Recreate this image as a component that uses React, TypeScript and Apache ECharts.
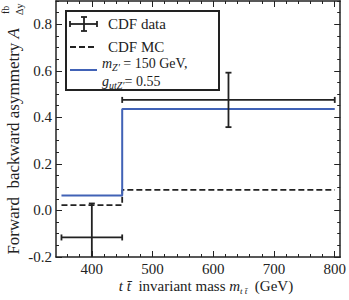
import React, { useEffect, useRef } from "react";
import * as echarts from "echarts";

// ---- data ----
const binEdges = [350, 450, 800];
const dataCenters = [400, 625];
const dataValues = [-0.116, 0.475];
const dataErrors = [0.146, 0.117];
const mcValues = [0.023, 0.088];
const zpValues = [0.064, 0.436];
const xTickLabels = [400, 500, 600, 700, 800];
const yTickLabels = [-0.2, 0.0, 0.2, 0.4, 0.6, 0.8];

const X_MIN = 341;
const X_MAX = 809;
const Y_MIN = -0.2;
const Y_MAX = 0.9;

const FONT = "Liberation Serif, serif";
const INK = "#222";
const BLUE = "#4162b6";

const xMinor: number[] = [];
for (let v = 360; v <= 800; v += 20) xMinor.push(v);
const yMinor: number[] = [];
for (let i = -4; i <= 18; i++) yMinor.push(Math.round(i * 5) / 100);

function stepData(values: number[]) {
  return binEdges.map((e, i) => [e, values[Math.min(i, values.length - 1)]]);
}

function xAxis(position: string, major: boolean, labels: boolean) {
  return {
    type: "value",
    min: X_MIN,
    max: X_MAX,
    position,
    splitLine: { show: false },
    axisLine: { show: major, onZero: false, lineStyle: { color: INK, width: 1.5 } },
    axisTick: {
      show: true,
      inside: true,
      length: major ? 6 : 3,
      customValues: major ? xTickLabels : xMinor,
      lineStyle: { color: INK, width: 1 },
    },
    axisLabel: labels
      ? { show: true, customValues: xTickLabels, color: INK, fontFamily: FONT, fontSize: 15, margin: 4 }
      : { show: false },
  };
}

function yAxis(position: string, major: boolean, labels: boolean) {
  return {
    type: "value",
    min: Y_MIN,
    max: Y_MAX,
    position,
    splitLine: { show: false },
    axisLine: { show: major, onZero: false, lineStyle: { color: INK, width: 1.5 } },
    axisTick: {
      show: true,
      inside: true,
      length: major ? 6 : 3,
      customValues: major ? yTickLabels : yMinor,
      lineStyle: { color: INK, width: 1 },
    },
    axisLabel: labels
      ? {
          show: true,
          customValues: yTickLabels,
          color: INK,
          fontFamily: FONT,
          fontSize: 15,
          margin: 4,
          formatter: (v: number) => v.toFixed(1),
        }
      : { show: false },
  };
}

const tok = (size: number, extra: any = {}) => ({ fontFamily: FONT, fontSize: size, fill: INK, ...extra });

const richText = (x: number, y: number, text: string, rich: any, extra: any = {}) => ({
  type: "text",
  z: 101,
  x,
  y,
  ...extra,
  style: {
    text,
    fontFamily: FONT,
    fontSize: 15,
    fill: INK,
    align: extra.align || "left",
    verticalAlign: "middle",
    rich,
  },
});

export default function App() {
  const ref = useRef<HTMLDivElement>(null);
  useEffect(() => {
    document.body.style.margin = "0";
    if (!ref.current) return;
    const chart = echarts.init(ref.current, null, { renderer: "svg" });
    const errData = dataCenters.map((c, i) => [c, dataValues[i], dataErrors[i], binEdges[i], binEdges[i + 1]]);

    const lineEl = (x1: number, y1: number, x2: number, y2: number, style: any) => ({
      type: "line",
      z: 101,
      shape: { x1, y1, x2, y2 },
      style,
    });

    const legendRich = {
      n15: tok(15, { lineHeight: 18, verticalAlign: "middle" }),
      i: tok(14, { fontStyle: "italic", lineHeight: 18, verticalAlign: "middle" }),
      s: tok(10, { fontStyle: "italic", lineHeight: 10, verticalAlign: "bottom" }),
      n: tok(14, { lineHeight: 18, verticalAlign: "middle" }),
    };

    const xTitleRich = {
      i: tok(15, { fontStyle: "italic", lineHeight: 18, verticalAlign: "middle" }),
      n: tok(15, { lineHeight: 18, verticalAlign: "middle" }),
      s: tok(9, { fontStyle: "italic", lineHeight: 9, verticalAlign: "bottom" }),
    };

    const yTitleRich = {
      n: tok(17),
      i: tok(17, { fontStyle: "italic" }),
      s: tok(10),
    };

    const option: any = {
      animation: false,
      grid: { left: 56, right: 8, top: 1, bottom: 43 },
      xAxis: [xAxis("bottom", true, true), xAxis("bottom", false, false), xAxis("top", true, false), xAxis("top", false, false)],
      yAxis: [yAxis("left", true, true), yAxis("left", false, false), yAxis("right", true, false), yAxis("right", false, false)],
      series: [
        {
          type: "line",
          name: "CDF MC",
          data: stepData(mcValues),
          step: "end",
          symbol: "none",
          lineStyle: { color: INK, width: 1.8, type: [6, 3] },
          z: 3,
        },
        {
          type: "line",
          name: "Z'",
          data: stepData(zpValues),
          step: "end",
          symbol: "none",
          lineStyle: { color: BLUE, width: 2 },
          z: 3,
        },
        {
          type: "custom",
          name: "CDF data",
          data: errData,
          z: 4,
          renderItem: (params: any, api: any) => {
            const x = api.value(0);
            const y = api.value(1);
            const e = api.value(2);
            const lo = api.value(3);
            const hi = api.value(4);
            const cs = params.coordSys;
            const c = api.coord([x, y]);
            const l = api.coord([lo, y]);
            const h = api.coord([hi, y]);
            const t = api.coord([x, y + e]);
            const b = api.coord([x, y - e]);
            const bottom = cs.y + cs.height;
            const top = cs.y;
            const tY = Math.max(t[1], top);
            const bY = Math.min(b[1], bottom);
            const st = { stroke: INK, lineWidth: 1.8 };
            const ch: any[] = [
              { type: "line", shape: { x1: l[0], y1: c[1], x2: h[0], y2: c[1] }, style: st },
              { type: "line", shape: { x1: l[0], y1: c[1] - 3, x2: l[0], y2: c[1] + 3 }, style: st },
              { type: "line", shape: { x1: h[0], y1: c[1] - 3, x2: h[0], y2: c[1] + 3 }, style: st },
              { type: "line", shape: { x1: c[0], y1: tY, x2: c[0], y2: bY }, style: st },
            ];
            if (t[1] >= top) ch.push({ type: "line", shape: { x1: c[0] - 3, y1: t[1], x2: c[0] + 3, y2: t[1] }, style: st });
            if (b[1] <= bottom) ch.push({ type: "line", shape: { x1: c[0] - 3, y1: b[1], x2: c[0] + 3, y2: b[1] }, style: st });
            return { type: "group", children: ch };
          },
        },
      ],
      graphic: [
        // legend box
        {
          type: "rect",
          z: 100,
          shape: { x: 66, y: 11, width: 153, height: 79 },
          style: { fill: "#fff", stroke: INK, lineWidth: 2 },
        },
        lineEl(70, 24, 97, 24, { stroke: INK, lineWidth: 1.8 }),
        lineEl(70, 21, 70, 27, { stroke: INK, lineWidth: 1.8 }),
        lineEl(97, 21, 97, 27, { stroke: INK, lineWidth: 1.8 }),
        lineEl(84, 17, 84, 31, { stroke: INK, lineWidth: 1.8 }),
        lineEl(81, 17, 87, 17, { stroke: INK, lineWidth: 1.8 }),
        lineEl(81, 31, 87, 31, { stroke: INK, lineWidth: 1.8 }),
        richText(108, 24, "{n15|CDF data}", legendRich),
        lineEl(70, 47, 97, 47, { stroke: INK, lineWidth: 1.8, lineDash: [6, 3] }),
        richText(108, 47, "{n15|CDF MC}", legendRich),
        lineEl(70, 70, 97, 70, { stroke: BLUE, lineWidth: 2 }),
        richText(102, 63, "{i|m}{s|Z′}{n| = 150 GeV,}", legendRich),
        richText(102, 81, "{i|g}{s|utZ′}{n|= 0.55}", legendRich),
        // y axis title
        richText(13, 28, "{n|Forward  backward asymmetry }{i|A}", yTitleRich, { rotation: Math.PI / 2, align: "right" }),
        richText(5, 14, "{s|fb}", yTitleRich, { rotation: Math.PI / 2 }),
        richText(19, 15, "{s|Δy}", yTitleRich, { rotation: Math.PI / 2 }),
        // x axis title
        richText(206, 286, "{i|t t̄}{n|  invariant mass }{i|m}{s|t t̄}{n|  (GeV)}", xTitleRich, { align: "center" }),
      ],
    };
    chart.setOption(option);
    return () => chart.dispose();
  }, []);
  return <div ref={ref} style={{ width: 349, height: 300 }} />;
}
